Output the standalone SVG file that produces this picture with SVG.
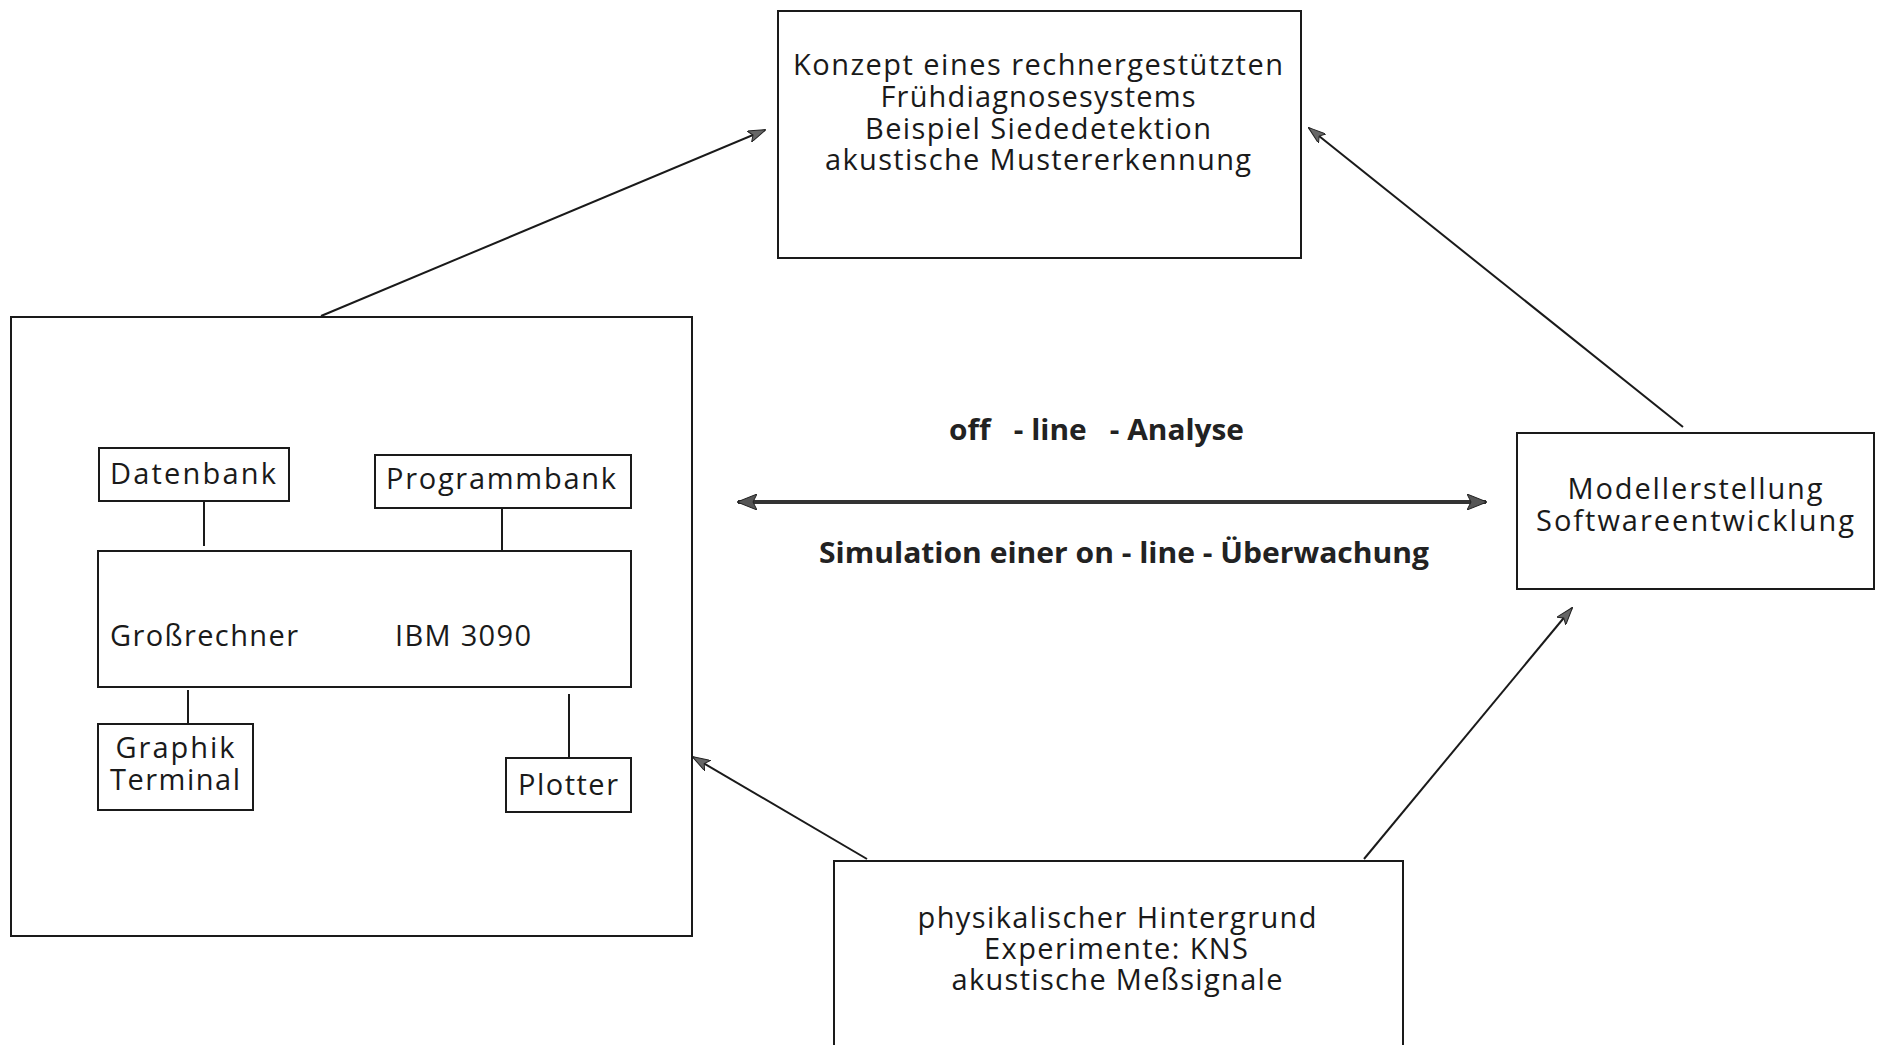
<svg xmlns="http://www.w3.org/2000/svg" width="1889" height="1045" viewBox="0 0 1889 1045">
  <style>
    .box { fill: none; stroke: #1a1a1a; stroke-width: 2; }
    .link { fill: none; stroke: #1a1a1a; stroke-width: 2; }
    .t { font-family: "Open Sans", "Noto Sans", "DejaVu Sans", sans-serif; font-size: 29px; fill: #1a1a1a; white-space: pre; }
    .c { text-anchor: middle; }
    .b { font-family: "Open Sans", "Noto Sans", "DejaVu Sans", sans-serif; font-size: 28px; font-weight: bold; fill: #222; white-space: pre; }
    .dbl { fill: none; stroke: #333; stroke-width: 4; }
  </style>
  <defs>
    <marker id="head" viewBox="0 0 18 12" refX="17" refY="6" markerWidth="18" markerHeight="12" markerUnits="userSpaceOnUse" orient="auto">
      <path d="M0,0 L18,6 L0,12 L4,6 Z" fill="#666" stroke="#222" stroke-width="1"/>
    </marker>
    <marker id="headBig" viewBox="0 0 20 16" refX="19" refY="8" markerWidth="20" markerHeight="16" markerUnits="userSpaceOnUse" orient="auto-start-reverse">
      <path d="M0,0 L20,8 L0,16 L4,8 Z" fill="#555" stroke="#222" stroke-width="1"/>
    </marker>
  </defs>

  <rect width="1889" height="1045" fill="#ffffff"/>

  <!-- connectors -->
  <g id="connectors">
    <line class="link" x1="321" y1="316" x2="765" y2="130" marker-end="url(#head)"/>
    <line class="link" x1="1683" y1="427" x2="1309" y2="128" marker-end="url(#head)"/>
    <line class="link" x1="867" y1="859" x2="693" y2="757" marker-end="url(#head)"/>
    <line class="link" x1="1364" y1="859" x2="1572" y2="608" marker-end="url(#head)"/>
    <line class="dbl" x1="738" y1="502" x2="1486" y2="502" marker-start="url(#headBig)" marker-end="url(#headBig)"/>
    <!-- internal links of the computer block -->
    <line class="link" x1="204" y1="501" x2="204" y2="546"/>
    <line class="link" x1="502" y1="508" x2="502" y2="551"/>
    <line class="link" x1="188" y1="690" x2="188" y2="724"/>
    <line class="link" x1="569" y1="694" x2="569" y2="758"/>
  </g>

  <!-- connector labels -->
  <g id="labels">
    <text class="b" x="949" y="440" textLength="295" lengthAdjust="spacingAndGlyphs">off   - line   - Analyse</text>
    <text class="b" x="819" y="563" textLength="610" lengthAdjust="spacingAndGlyphs">Simulation einer on - line - Überwachung</text>
  </g>

  <g id="node-konzept">
    <rect class="box" x="778" y="11" width="523" height="247"/>
    <text class="t c" x="1038" y="75" textLength="490">Konzept eines rechnergestützten</text>
    <text class="t c" x="1038" y="107" textLength="315">Frühdiagnosesystems</text>
    <text class="t c" x="1038" y="139" textLength="346">Beispiel Siededetektion</text>
    <text class="t c" x="1038" y="170" textLength="426">akustische Mustererkennung</text>
  </g>

  <g id="node-rechner">
    <rect class="box" x="11" y="317" width="681" height="619"/>
  </g>

  <g id="node-datenbank">
    <rect class="box" x="99" y="448" width="190" height="53"/>
    <text class="t c" x="193" y="484" textLength="166">Datenbank</text>
  </g>

  <g id="node-programmbank">
    <rect class="box" x="375" y="455" width="256" height="53"/>
    <text class="t c" x="501" y="489" textLength="230">Programmbank</text>
  </g>

  <g id="node-grossrechner">
    <rect class="box" x="98" y="551" width="533" height="136"/>
    <text class="t" x="110" y="646" textLength="188">Großrechner</text>
    <text class="t" x="395" y="646" textLength="136">IBM 3090</text>
  </g>

  <g id="node-terminal">
    <rect class="box" x="98" y="724" width="155" height="86"/>
    <text class="t c" x="175" y="758" textLength="119">Graphik</text>
    <text class="t c" x="175" y="790" textLength="130">Terminal</text>
  </g>

  <g id="node-plotter">
    <rect class="box" x="506" y="758" width="125" height="54"/>
    <text class="t c" x="568" y="795" textLength="100">Plotter</text>
  </g>

  <g id="node-modell">
    <rect class="box" x="1517" y="433" width="357" height="156"/>
    <text class="t c" x="1695" y="499" textLength="255">Modellerstellung</text>
    <text class="t c" x="1695" y="531" textLength="318">Softwareentwicklung</text>
  </g>

  <g id="node-physik">
    <path class="box" d="M834,1046 L834,861 L1403,861 L1403,1046"/>
    <text class="t c" x="1117" y="928" textLength="399">physikalischer Hintergrund</text>
    <text class="t c" x="1116" y="959" textLength="264">Experimente: KNS</text>
    <text class="t c" x="1117" y="990" textLength="331">akustische Meßsignale</text>
  </g>
</svg>
